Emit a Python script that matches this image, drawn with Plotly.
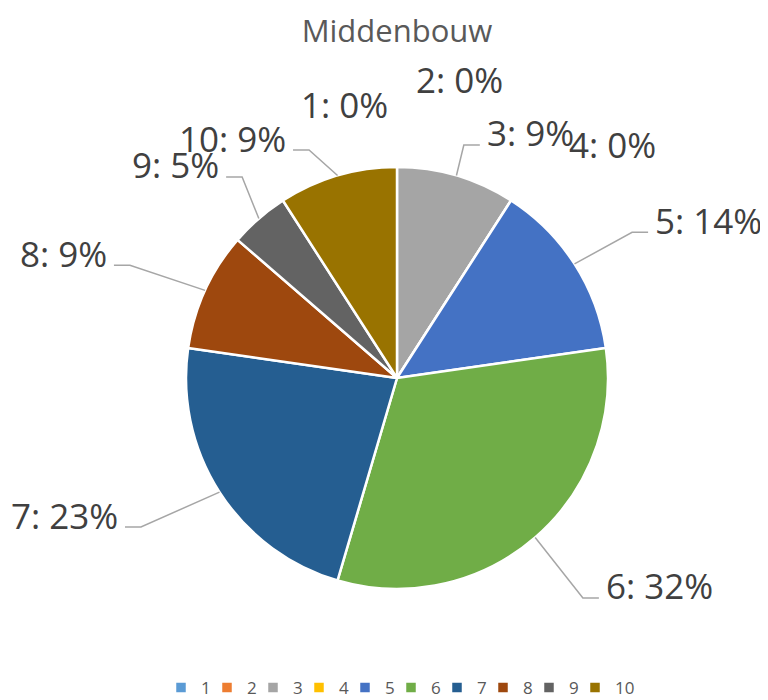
import numpy as np
import plotly.graph_objects as go

# data
categories = ['1', '2', '3', '4', '5', '6', '7', '8', '9', '10']
counts = [0, 0, 2, 0, 3, 7, 5, 2, 1, 2]
colors = ['#5B9BD5', '#ED7D31', '#A5A5A5', '#FFC000', '#4472C4',
          '#70AD47', '#255E91', '#9E480E', '#636363', '#997300']
title = 'Middenbouw'

# layout (pixels, page coordinates; the page adds an 8px body margin)
W, H = 768, 700
OFF = 8
cx, cy, R = 397, 378, 211
# where each label sits: angle (deg, clockwise from top) and radius factor
# (elbow of the leader line for filled slices, text centre for empty ones)
label_ang = [349.2, 11.9, 16.0, 42.7, 58.2, 139.8, 239.8, 292.9, 322.4, 338.9]
label_k = [1.318, 1.444, 1.149, 1.503, 1.311, 1.365, 1.404, 1.374, 1.203, 1.158]
seg = 16
gap = 6


def px(x, y):
    return (x - OFF) / W, 1 - (y - OFF) / H


def polar(ang, k):
    a = np.radians(ang)
    return cx + k * R * np.sin(a), cy - k * R * np.cos(a)


total = sum(counts)
ends = np.cumsum(counts) / total * 360
starts = ends - np.array(counts) / total * 360

fig = go.Figure(go.Pie(
    labels=categories,
    values=counts,
    sort=False,
    direction='clockwise',
    rotation=0,
    textinfo='none',
    hoverinfo='label+percent',
    marker=dict(colors=colors, line=dict(color='white', width=2.5)),
    domain=dict(x=[(cx - OFF - R) / W, (cx - OFF + R) / W],
                y=[(H - cy + OFF - R) / H, (H - cy + OFF + R) / H]),
))
# empty spacer entry so the last legend label ("10") is not clipped
fig.add_trace(go.Scatter(x=[None], y=[None], mode='markers', name=' ',
                         marker=dict(color='rgba(0,0,0,0)', size=1,
                                     line=dict(width=0)),
                         hoverinfo='skip', showlegend=True))

shapes = []
annotations = []
for i, (cat, v) in enumerate(zip(categories, counts)):
    pct = round(100 * v / total)
    text = f'{cat}: {pct}%'
    ex, ey = polar(label_ang[i], label_k[i])
    if v == 0:
        xp, yp = px(ex, ey)
        annotations.append(dict(x=xp, y=yp, xref='paper', yref='paper', text=text,
                                showarrow=False, xanchor='center', yanchor='middle'))
        continue
    sx, sy = polar((starts[i] + ends[i]) / 2, 1.0)
    side = 1 if ex >= cx else -1
    tx = ex + side * seg
    p = [px(sx, sy), px(ex, ey), px(tx, ey)]
    shapes.append(dict(type='path', xref='paper', yref='paper',
                       path=f'M {p[0][0]},{p[0][1]} L {p[1][0]},{p[1][1]} L {p[2][0]},{p[2][1]}',
                       line=dict(color='#A6A6A6', width=1.5)))
    xp, yp = px(tx + side * gap, ey - 12)
    annotations.append(dict(x=xp, y=yp, xref='paper', yref='paper', text=text,
                            showarrow=False, xanchor='left' if side > 0 else 'right',
                            yanchor='middle'))

for a in annotations:
    a['font'] = dict(family='Open Sans', size=35, color='#404040')
    a['borderpad'] = 0

tx_, ty_ = px(cx, 31)
lx_, ly_ = px(161, 688)
fig.update_layout(
    width=W, height=H,
    margin=dict(l=0, r=0, t=0, b=0),
    paper_bgcolor='white',
    plot_bgcolor='white',
    xaxis=dict(visible=False),
    yaxis=dict(visible=False),
    title=dict(text=title, x=tx_, xanchor='center', y=ty_, yanchor='middle',
               font=dict(family='Open Sans', size=31, color='#595959')),
    legend=dict(orientation='h', x=lx_, xanchor='left', y=ly_, yanchor='middle',
                font=dict(family='Open Sans', size=17, color='#595959'),
                entrywidth=1, itemclick=False),
    shapes=shapes,
    annotations=annotations,
)

fig.write_html('out.html')
